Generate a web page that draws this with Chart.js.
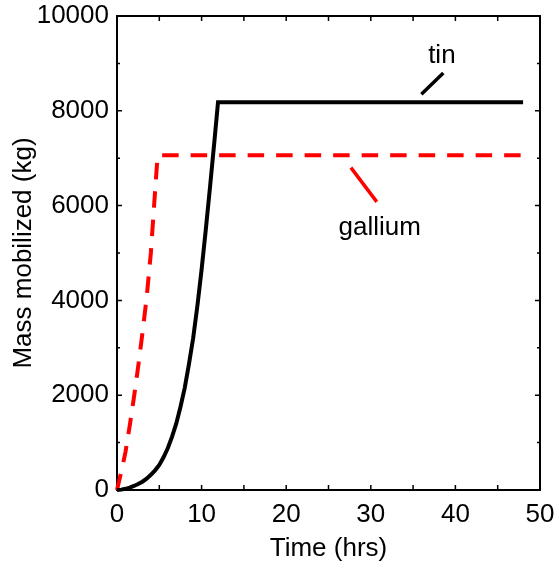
<!DOCTYPE html>
<html>
<head>
<meta charset="utf-8">
<script src="https://cdn.jsdelivr.net/npm/chart.js@4.4.1/dist/chart.umd.min.js"></script>
<style>
  html, body { margin: 0; padding: 0; background: #fff; }
  #wrap { width: 559px; height: 571px; }
</style>
</head>
<body>
<div id="wrap"><canvas id="chart" width="559" height="571"></canvas></div>
<script>
// tin: mass mobilized (kg) against time (hrs)
const tinHours = [0, 0.5, 1, 1.5, 2, 2.5, 3, 3.5, 4, 4.5, 5, 5.5, 6, 6.5, 7, 7.5, 8, 8.5, 9, 9.5, 10, 10.5, 11, 11.5, 11.94, 48];
const tinMass = [0, 8, 25, 50, 85, 125, 175, 240, 320, 415, 530, 690, 880, 1120, 1400, 1750, 2150, 2650, 3200, 3880, 4650, 5500, 6400, 7330, 8180, 8180];

// gallium
const gaHours = [0, 0.65, 1, 1.5, 2, 2.5, 3, 3.5, 4, 4.5, 4.8, 48];
const gaMass = [0, 500, 800, 1350, 1950, 2600, 3300, 4050, 5000, 6300, 7060, 7060];

// axis ticks
const xTicks = [0, 10, 20, 30, 40, 50];
const xMinor = [5, 15, 25, 35, 45];
const yTicks = [0, 2000, 4000, 6000, 8000, 10000];
const yMinor = [1000, 3000, 5000, 7000, 9000];

// in-plot labels with their leader lines (data units)
const noteText = ['tin', 'gallium'];
const noteX = [38.4, 31.05];
const noteY = [9170, 5524];
const leaderX1 = [35.98, 27.65];
const leaderY1 = [8349, 6802];
const leaderX2 = [38.57, 30.71];
const leaderY2 = [8796, 6079];
const noteColor = ['#000000', '#ff0000'];

const FONT = '"Liberation Sans", Arial, Helvetica, sans-serif';
Chart.defaults.font.family = FONT;
Chart.defaults.font.size = 26;
Chart.defaults.color = '#000';

const toPoints = (xs, ys) => xs.map((x, i) => ({x: x, y: ys[i]}));

const frameTicks = {
    id: 'frameTicks',
    beforeDatasetsDraw(chart) {
        const {ctx, chartArea: a, scales: {x, y}} = chart;
        ctx.save();
        ctx.strokeStyle = '#000';
        ctx.lineWidth = 2;
        ctx.strokeRect(a.left, a.top, a.right - a.left, a.bottom - a.top);
        ctx.lineWidth = 1.5;
        ctx.beginPath();
        xTicks.concat(xMinor).forEach(v => {
            if (v <= 0 || v >= 50) return;
            const px = x.getPixelForValue(v);
            ctx.moveTo(px, a.bottom); ctx.lineTo(px, a.bottom - 5);
            ctx.moveTo(px, a.top); ctx.lineTo(px, a.top + 5);
        });
        yTicks.forEach(v => {
            if (v <= 0 || v >= 10000) return;
            const py = y.getPixelForValue(v);
            ctx.moveTo(a.left, py); ctx.lineTo(a.left + 5, py);
            ctx.moveTo(a.right, py); ctx.lineTo(a.right - 5, py);
        });
        yMinor.forEach(v => {
            const py = y.getPixelForValue(v);
            ctx.moveTo(a.left, py); ctx.lineTo(a.left + 3, py);
            ctx.moveTo(a.right, py); ctx.lineTo(a.right - 3, py);
        });
        ctx.stroke();
        ctx.restore();
    },
    afterDatasetsDraw(chart) {
        const {ctx, scales: {x, y}} = chart;
        ctx.save();
        ctx.lineWidth = 3.5;
        ctx.font = '26px ' + FONT;
        ctx.textAlign = 'center';
        ctx.textBaseline = 'middle';
        noteText.forEach((t, i) => {
            ctx.strokeStyle = noteColor[i];
            ctx.beginPath();
            ctx.moveTo(x.getPixelForValue(leaderX1[i]), y.getPixelForValue(leaderY1[i]));
            ctx.lineTo(x.getPixelForValue(leaderX2[i]), y.getPixelForValue(leaderY2[i]));
            ctx.stroke();
            ctx.fillStyle = '#000';
            ctx.fillText(t, x.getPixelForValue(noteX[i]), y.getPixelForValue(noteY[i]));
        });
        ctx.restore();
    }
};

const chart = new Chart(document.getElementById('chart').getContext('2d'), {
    "type": "line",
    "data": {
        "datasets": [{
            "label": "tin",
            "data": toPoints(tinHours, tinMass),
            "borderColor": "#000000",
            "borderWidth": 4,
            "pointRadius": 0,
            "tension": 0,
            "clip": false
        }, {
            "label": "gallium",
            "data": toPoints(gaHours, gaMass),
            "borderColor": "#ff0000",
            "borderWidth": 4,
            "borderDash": [16.5, 12],
            "pointRadius": 0,
            "tension": 0,
            "clip": false
        }]
    },
    "options": {
        "responsive": false,
        "animation": false,
        "layout": {"padding": {"left": 0, "right": 19, "top": 16, "bottom": 0}},
        "plugins": {
            "legend": {"display": false},
            "tooltip": {"enabled": false}
        },
        "scales": {
            "x": {
                "type": "linear",
                "min": 0,
                "max": 50,
                "afterBuildTicks": scale => { scale.ticks = xTicks.map(v => ({value: v})); },
                "afterFit": scale => {
                    scale.height = 81;
                    scale.paddingLeft = 0;
                    scale.paddingRight = 0;
                },
                "grid": {"display": false, "drawTicks": false},
                "border": {"display": false},
                "ticks": {"padding": 9, "maxRotation": 0},
                "title": {"display": true, "text": "Time (hrs)", "padding": {"top": 0, "bottom": 7}}
            },
            "y": {
                "type": "linear",
                "min": 0,
                "max": 10000,
                "afterBuildTicks": scale => { scale.ticks = yTicks.map(v => ({value: v})); },
                "afterFit": scale => {
                    scale.width = 117;
                    scale.paddingTop = 0;
                    scale.paddingBottom = 0;
                },
                "grid": {"display": false, "drawTicks": false},
                "border": {"display": false},
                "ticks": {"padding": 8, "callback": v => String(v)},
                "title": {"display": true, "text": "Mass mobilized (kg)", "padding": {"top": 8, "bottom": 0}}
            }
        }
    },
    "plugins": [frameTicks]
});
</script>
</body>
</html>
